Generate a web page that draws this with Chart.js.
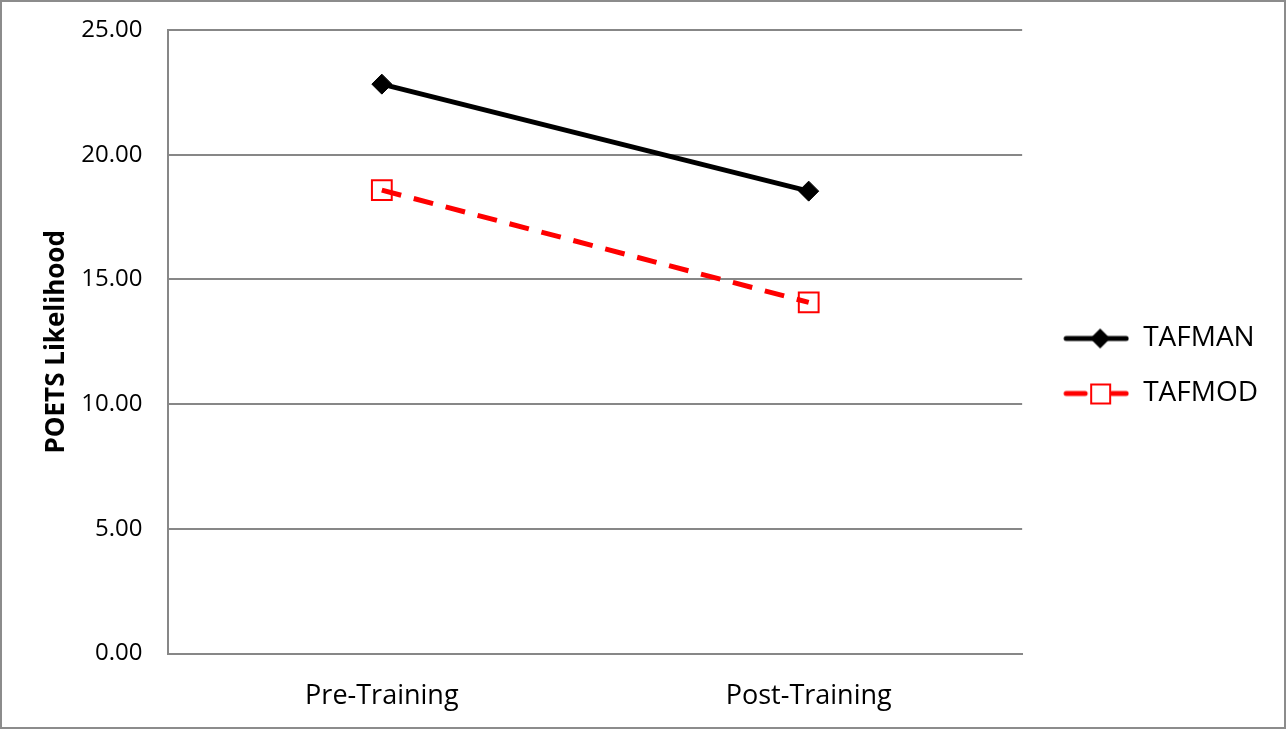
<!DOCTYPE html>
<html>
<head>
<meta charset="utf-8">
<script src="https://cdn.jsdelivr.net/npm/chart.js@4"></script>
<style>
  html, body { margin: 0; padding: 0; background: #fff; }
  #wrap { width: 1286px; height: 729px; position: relative; }
</style>
</head>
<body>
<div id="wrap"><canvas id="poetsChart"></canvas></div>
<script>
// POETS likelihood, pre vs post training

const categories = ['Pre-Training', 'Post-Training'];
const tafmanValues = [22.83, 18.54];
const tafmodValues = [18.58, 14.08];
const yTicks = [0, 5, 10, 15, 20, 25];

const gridColor = '#878787';
const fontFamily = '"Open Sans", "Noto Sans", sans-serif';

// legend swatch: line with the marker in the middle
function legendSwatch(color, dashed, marker) {
    const c = document.createElement('canvas');
    c.width = 80;
    c.height = 30;
    const ctx = c.getContext('2d');
    ctx.strokeStyle = color;
    ctx.lineWidth = 5;
    ctx.lineCap = 'round';
    ctx.beginPath();
    if (dashed) {
        ctx.moveTo(17, 15); ctx.lineTo(36, 15);
        ctx.moveTo(63, 15); ctx.lineTo(77, 15);
    } else {
        ctx.moveTo(17, 15); ctx.lineTo(77, 15);
    }
    ctx.stroke();
    if (marker === 'diamond') {
        ctx.fillStyle = color;
        ctx.beginPath();
        ctx.moveTo(51, 5); ctx.lineTo(61, 15); ctx.lineTo(51, 25); ctx.lineTo(41, 15);
        ctx.closePath();
        ctx.fill();
    } else {
        ctx.lineWidth = 2;
        ctx.strokeRect(42, 6, 19, 19);
    }
    return c;
}

const outerBorder = {
    id: 'outerBorder',
    afterDraw(chart) {
        const ctx = chart.ctx;
        ctx.save();
        ctx.strokeStyle = '#8c8c8c';
        ctx.lineWidth = 2;
        ctx.strokeRect(1, 1, chart.width - 2, chart.height - 2);
        ctx.restore();
    }
};

// nudge the legend up a bit so it sits mid-height like the original
const legendNudge = {
    id: 'legendNudge',
    afterLayout(chart) {
        if (chart.legend) {
            chart.legend.top -= 15;
            chart.legend.bottom -= 15;
        }
    }
};

document.addEventListener('DOMContentLoaded', function() {
    const canvas = document.getElementById('poetsChart');
    const swatches = [
        legendSwatch('#000000', false, 'diamond'),
        legendSwatch('#ff0000', true, 'square')
    ];

    new Chart(canvas.getContext('2d'), {
        type: 'line',
        data: {
            labels: categories,
            datasets: [{
                label: 'TAFMAN',
                data: tafmanValues,
                borderColor: '#000000',
                backgroundColor: '#000000',
                borderWidth: 5,
                pointStyle: 'rectRot',
                pointRadius: 10,
                pointBorderWidth: 1,
                fill: false
            }, {
                label: 'TAFMOD',
                data: tafmodValues,
                borderColor: '#ff0000',
                backgroundColor: 'rgba(0,0,0,0)',
                borderWidth: 5,
                borderDash: [20, 13],
                pointStyle: 'rect',
                pointRadius: 14,
                pointBorderWidth: 2,
                fill: false
            }]
        },
        options: {
            responsive: true,
            maintainAspectRatio: false,
            animation: false,
            layout: { padding: { left: 37, top: 30, right: 18, bottom: -3 } },
            plugins: {
                tooltip: { enabled: false },
                legend: {
                    position: 'right',
                    labels: {
                        usePointStyle: true,
                        pointStyleWidth: 80,
                        padding: 27,
                        color: '#000',
                        font: { family: fontFamily, size: 28 },
                        generateLabels: function(chart) {
                            return chart.data.datasets.map(function(ds, i) {
                                return {
                                    text: ds.label,
                                    pointStyle: swatches[i],
                                    fillStyle: 'transparent',
                                    strokeStyle: 'transparent',
                                    lineWidth: 0,
                                    fontColor: '#000',
                                    datasetIndex: i
                                };
                            });
                        }
                    }
                }
            },
            scales: {
                x: {
                    offset: true,
                    grid: { display: false },
                    border: { display: true, color: gridColor, width: 2 },
                    ticks: {
                        color: '#000',
                        padding: 19,
                        font: { family: fontFamily, size: 27 }
                    }
                },
                y: {
                    min: 0,
                    max: 25,
                    afterBuildTicks: function(axis) {
                        axis.ticks = yTicks.map(v => ({ value: v }));
                    },
                    afterFit: function(axis) {
                        // tick padding is horizontal here, don't let it push the top down
                        axis.paddingTop = 0;
                        axis.paddingBottom = 0;
                    },
                    grid: { color: gridColor, lineWidth: 2, drawTicks: false },
                    border: { display: true, color: gridColor, width: 2 },
                    title: {
                        display: true,
                        text: 'POETS Likelihood',
                        color: '#000',
                        padding: { top: 4, bottom: -17 },
                        font: { family: fontFamily, size: 26, weight: 'bold' }
                    },
                    ticks: {
                        color: '#000',
                        padding: 26,
                        font: { family: fontFamily, size: 24 },
                        callback: function(value) {
                            return value.toFixed(2);
                        }
                    }
                }
            }
        },
        plugins: [outerBorder, legendNudge]
    });
});
</script>
</body>
</html>
